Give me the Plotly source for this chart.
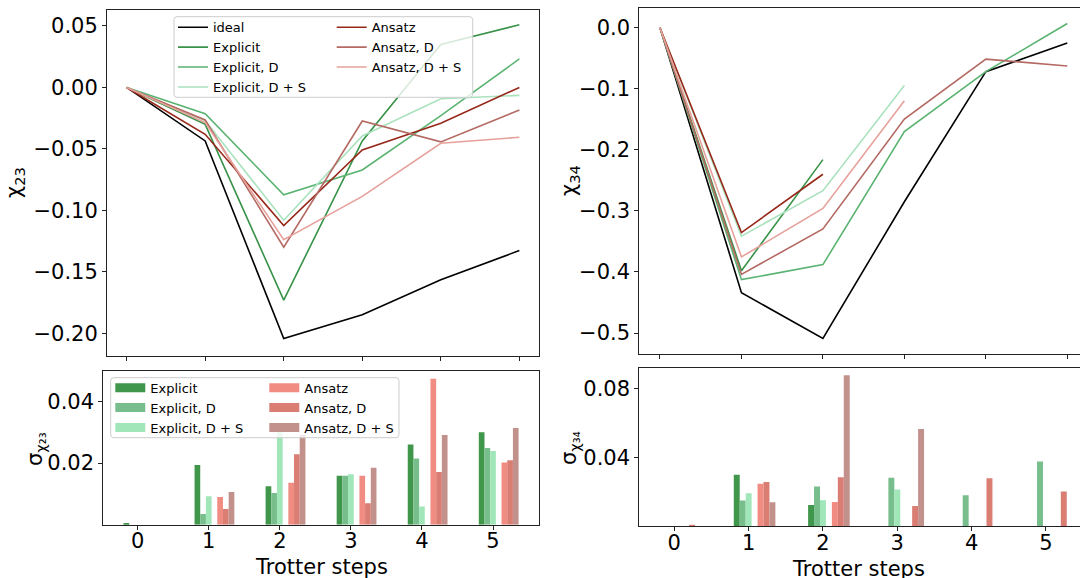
import plotly.graph_objects as go

W, H = 1080, 578

# ---------------- data ----------------
steps = [0, 1, 2, 3, 4, 5]
tick_labels = ["0", "1", "2", "3", "4", "5"]

names = ["Explicit", "Explicit, D", "Explicit, D + S", "Ansatz", "Ansatz, D", "Ansatz, D + S"]

# chi_23 (top left)
ideal_23 = [0.0, -0.0435, -0.2043, -0.185, -0.1565, -0.1327]
explicit_23 = [0.0, -0.030, -0.173, -0.0435, 0.0349, 0.051]
explicit_d_23 = [0.0, -0.0214, -0.0873, -0.0672, -0.023, 0.0232]
explicit_ds_23 = [0.0, -0.027, -0.1081, -0.0395, -0.0092, -0.0065]
ansatz_23 = [0.0, -0.0381, -0.1124, -0.0508, -0.0292, 0.0]
ansatz_d_23 = [0.0, -0.0265, -0.1300, -0.0273, -0.0443, -0.0184]
ansatz_ds_23 = [0.0, -0.0286, -0.1238, -0.0886, -0.0454, -0.0405]

# chi_34 (top right)
ideal_34 = [0.0, -0.434, -0.509, -0.285, -0.072, -0.025]
explicit_34 = [0.0, -0.398, -0.216, None, None, None]
explicit_d_34 = [0.0, -0.4126, -0.388, -0.170, -0.072, 0.007]
explicit_ds_34 = [0.0, -0.3415, -0.267, -0.0945, None, None]
ansatz_34 = [0.0, -0.3355, -0.240, None, None, None]
ansatz_d_34 = [0.0, -0.404, -0.3295, -0.1497, -0.0514, -0.0628]
ansatz_ds_34 = [0.0, -0.3754, -0.296, -0.1197, None, None]

# sigma chi_23 (bottom left)
sig23_explicit = [0.0003, 0.0194, 0.0125, 0.0159, 0.0260, 0.0300]
sig23_explicit_d = [0.0, 0.0035, 0.0103, 0.0159, 0.0215, 0.0249]
sig23_explicit_ds = [0.0, 0.0092, 0.0305, 0.0164, 0.0059, 0.0239]
sig23_ansatz = [0.0, 0.0090, 0.0136, 0.0159, 0.0474, 0.0202]
sig23_ansatz_d = [0.0, 0.0051, 0.0229, 0.0070, 0.0171, 0.0209]
sig23_ansatz_ds = [0.0, 0.0106, 0.0292, 0.0185, 0.0291, 0.0314]

# sigma chi_34 (bottom right)
sig34_explicit = [0.0, 0.0298, 0.0124, None, None, None]
sig34_explicit_d = [0.0, 0.0149, 0.0230, 0.0282, 0.0180, 0.0375]
sig34_explicit_ds = [0.0, 0.0191, 0.0151, 0.0213, None, None]
sig34_ansatz = [0.0, 0.0247, 0.0141, None, None, None]
sig34_ansatz_d = [0.0004, 0.0257, 0.0284, 0.0118, 0.0278, 0.0201]
sig34_ansatz_ds = [0.0, 0.0139, 0.0875, 0.0564, None, None]

# ---------------- styles ----------------
FONT = "DejaVu Sans"
line_colors = ["#389248", "#5ab371", "#aae2be", "#962819", "#b46962", "#e6a19b"]
bar_colors = ["#40964a", "#78be8c", "#a0e6b9", "#f08c82", "#da7d73", "#c3918c"]
bar_offsets = [-0.20, -0.12, -0.04, 0.12, 0.20, 0.28]
bar_width = 0.08


def px_x(p):
    return p / W


def px_y(p):
    return 1 - p / H


fig = go.Figure()

# ---- top left lines ----
series_23 = [explicit_23, explicit_d_23, explicit_ds_23, ansatz_23, ansatz_d_23, ansatz_ds_23]
series_34 = [explicit_34, explicit_d_34, explicit_ds_34, ansatz_34, ansatz_d_34, ansatz_ds_34]
legend_of = ["legend", "legend", "legend", "legend2", "legend2", "legend2"]

fig.add_trace(go.Scatter(x=steps, y=ideal_23, mode="lines", name="ideal",
                         line=dict(color="black", width=1.6), xaxis="x", yaxis="y",
                         legend="legend"))
for nm, ys, c, lg in zip(names, series_23, line_colors, legend_of):
    fig.add_trace(go.Scatter(x=steps, y=ys, mode="lines", name=nm,
                             line=dict(color=c, width=1.6), xaxis="x", yaxis="y",
                             legend=lg))

# ---- top right lines ----
fig.add_trace(go.Scatter(x=steps, y=ideal_34, mode="lines", name="ideal",
                         line=dict(color="black", width=1.6), xaxis="x2", yaxis="y2",
                         showlegend=False))
for nm, ys, c in zip(names, series_34, line_colors):
    fig.add_trace(go.Scatter(x=steps, y=ys, mode="lines", name=nm,
                             line=dict(color=c, width=1.6), xaxis="x2", yaxis="y2",
                             showlegend=False))

# ---- bars ----
sig_23 = [sig23_explicit, sig23_explicit_d, sig23_explicit_ds, sig23_ansatz, sig23_ansatz_d, sig23_ansatz_ds]
sig_34 = [sig34_explicit, sig34_explicit_d, sig34_explicit_ds, sig34_ansatz, sig34_ansatz_d, sig34_ansatz_ds]
for nm, ys, c, off in zip(names, sig_23, bar_colors, bar_offsets):
    fig.add_trace(go.Bar(x=steps, y=ys, name=nm, marker=dict(color=c, line=dict(width=0)),
                         width=bar_width, offset=off, xaxis="x3", yaxis="y3",
                         showlegend=False))
for nm, ys, c, off in zip(names, sig_34, bar_colors, bar_offsets):
    fig.add_trace(go.Bar(x=steps, y=ys, name=nm, marker=dict(color=c, line=dict(width=0)),
                         width=bar_width, offset=off, xaxis="x4", yaxis="y4",
                         showlegend=False))
# legend swatches for the bar panel
bar_legend_of = ["legend3", "legend3", "legend3", "legend4", "legend4", "legend4"]
for nm, c, lg in zip(names, bar_colors, bar_legend_of):
    fig.add_trace(go.Scatter(x=[None], y=[None], mode="lines", name=nm,
                             line=dict(color=c, width=9), xaxis="x3", yaxis="y3",
                             legend=lg))

# ---------------- axes ----------------
tickfont = dict(family=FONT, size=21, color="black")
common = dict(showline=True, linecolor="#222", linewidth=1, ticks="outside",
              ticklen=4, tickwidth=1, tickcolor="#222", showgrid=False,
              zeroline=False, tickfont=tickfont, fixedrange=True)

layout = dict(
    width=W, height=H,
    margin=dict(l=0, r=0, t=0, b=0),
    paper_bgcolor="white", plot_bgcolor="white",
    font=dict(family=FONT, color="black"),
    barmode="overlay",
    xaxis=dict(domain=[px_x(107), px_x(539)], range=[-0.25, 5.25], anchor="y",
               tickvals=steps, showticklabels=False, mirror=True, **common),
    yaxis=dict(domain=[px_y(356), px_y(10)], range=[-0.2185, 0.063], anchor="x",
               tickvals=[-0.20, -0.15, -0.10, -0.05, 0.0, 0.05], tickformat=".2f",
               mirror=True, **common),
    xaxis2=dict(domain=[px_x(639.3), 1.0], range=[-0.254, 5.156], anchor="y2",
                tickvals=steps, showticklabels=False, mirror=True, **common),
    yaxis2=dict(domain=[px_y(354), px_y(8)], range=[-0.5344, 0.0323], anchor="x2",
                tickvals=[-0.5, -0.4, -0.3, -0.2, -0.1, 0.0], tickformat=".1f",
                mirror=False, **common),
    xaxis3=dict(domain=[px_x(103.3), px_x(539)], range=[-0.484, 5.647], anchor="y3",
                tickvals=steps, ticktext=tick_labels, mirror=True,
                ticklabelstandoff=-7, **common),
    yaxis3=dict(domain=[px_y(524.7), px_y(371)], range=[0, 0.0499], anchor="x3",
                tickvals=[0.02, 0.04], tickformat=".2f", mirror=True, **common),
    xaxis4=dict(domain=[px_x(639.3), 1.0], range=[-0.471, 5.458], anchor="y4",
                tickvals=steps, ticktext=tick_labels, mirror=True,
                ticklabelstandoff=-7, **common),
    yaxis4=dict(domain=[px_y(526.3), px_y(367.7)], range=[0, 0.0919], anchor="x4",
                tickvals=[0.04, 0.08], tickformat=".2f", mirror=False, **common),
)

legfont = dict(family=FONT, size=13, color="black")
legcommon = dict(bgcolor="rgba(0,0,0,0)", borderwidth=0, font=legfont,
                 xanchor="left", yanchor="top", orientation="v",
                 tracegroupgap=0, itemclick=False, itemdoubleclick=False)
layout["legend"] = dict(x=px_x(173), y=px_y(12.3), **legcommon)
layout["legend2"] = dict(x=px_x(331.7), y=px_y(12.3), **legcommon)
layout["legend3"] = dict(x=px_x(110.3), y=px_y(372.7), **legcommon)
layout["legend4"] = dict(x=px_x(264.3), y=px_y(372.7), **legcommon)


def rounded_box(x0, y0, x1, y1, r=3):
    # pixel coordinates -> paper coordinates path
    def P(x, y):
        return f"{px_x(x):.5f},{px_y(y):.5f}"
    return (f"M{P(x0 + r, y0)} L{P(x1 - r, y0)} Q{P(x1, y0)} {P(x1, y0 + r)} "
            f"L{P(x1, y1 - r)} Q{P(x1, y1)} {P(x1 - r, y1)} "
            f"L{P(x0 + r, y1)} Q{P(x0, y1)} {P(x0, y1 - r)} "
            f"L{P(x0, y0 + r)} Q{P(x0, y0)} {P(x0 + r, y0)} Z")


layout["shapes"] = [
    dict(type="path", xref="paper", yref="paper", layer="above",
         path=rounded_box(174, 16.7, 472.7, 97.3),
         fillcolor="rgba(255,255,255,0.8)", line=dict(color="#cccccc", width=1)),
    dict(type="path", xref="paper", yref="paper", layer="above",
         path=rounded_box(110.7, 377.7, 399, 437.7),
         fillcolor="rgba(255,255,255,0.8)", line=dict(color="#cccccc", width=1)),
]

titlefont = dict(family=FONT, size=21, color="black")
layout["annotations"] = [
    dict(text="χ<sub>23</sub>", x=px_x(15), y=px_y(183), xref="paper", yref="paper",
         textangle=-90, showarrow=False, xanchor="center", yanchor="middle", font=titlefont),
    dict(text="σ<sub>χ₂₃</sub>", x=px_x(36), y=px_y(449), xref="paper", yref="paper",
         textangle=-90, showarrow=False, xanchor="center", yanchor="middle", font=titlefont),
    dict(text="χ<sub>34</sub>", x=px_x(570), y=px_y(181), xref="paper", yref="paper",
         textangle=-90, showarrow=False, xanchor="center", yanchor="middle", font=titlefont),
    dict(text="σ<sub>χ₃₄</sub>", x=px_x(570), y=px_y(448), xref="paper", yref="paper",
         textangle=-90, showarrow=False, xanchor="center", yanchor="middle", font=titlefont),
    dict(text="Trotter steps", x=px_x(321.7), y=px_y(566.7), xref="paper", yref="paper",
         showarrow=False, xanchor="center", yanchor="middle", font=titlefont),
    dict(text="Trotter steps", x=px_x(858), y=px_y(568.5), xref="paper", yref="paper",
         showarrow=False, xanchor="center", yanchor="middle", font=titlefont),
]

fig.update_layout(**layout)
fig.write_html("out.html")
